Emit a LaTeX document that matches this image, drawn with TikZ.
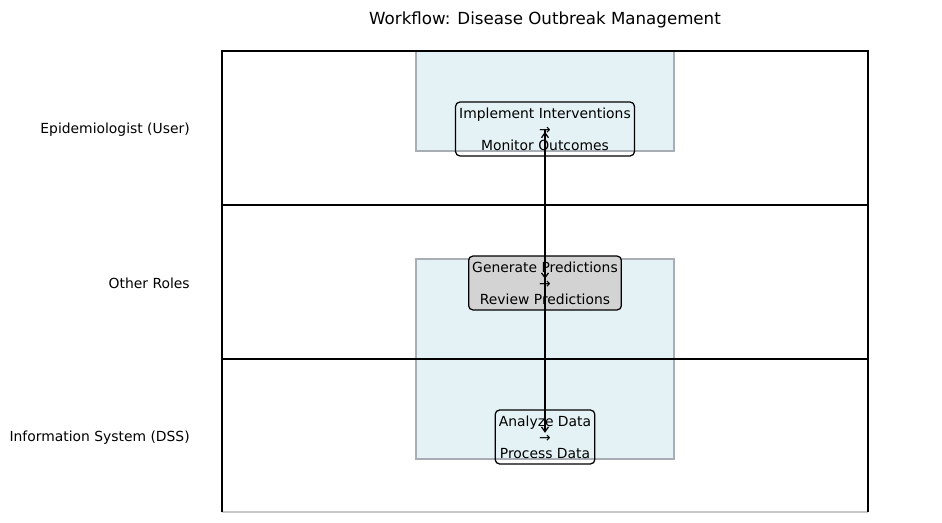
\documentclass[tikz,border=0pt]{standalone}
\usepackage{fontspec}
\setmainfont{DejaVu Sans}
\usetikzlibrary{arrows.meta}
\definecolor{zonefill}{RGB}{228,242,246}
\definecolor{zoneedge}{RGB}{168,174,180}
\definecolor{midfill}{RGB}{211,211,211}
\definecolor{bottomedge}{RGB}{200,200,200}
\tikzset{
  lane/.style={draw=black, line width=1pt},
  zone/.style={fill=zonefill, draw=zoneedge, line width=0.8pt},
  stepbox/.style={draw=black, line width=0.9pt, rounded corners=3pt, align=center,
    font=\fontsize{10}{11.5}\selectfont, inner xsep=2.6pt, inner ysep=4pt},
  lanelabel/.style={anchor=east, font=\fontsize{10}{12}\selectfont, inner sep=0pt},
  flow/.style={-{Straight Barb[length=3.5pt,width=5pt]}, line width=0.9pt}
}
\begin{document}
\begin{tikzpicture}[x=0.72pt,y=-0.72pt]
\useasboundingbox (0,0) rectangle (942,523);
% title
\node[font=\fontsize{12}{14}\selectfont] (title) at (545,19.5) {Workflow: Disease Outbreak Management};
% zones
\draw[zone] (416,51) rectangle (674,151);
\draw[zone] (416,259) rectangle (674,459);
% lanes
\draw[draw=bottomedge, line width=1pt] (222,512) -- (868,512);
\draw[lane] (222,512) -- (222,51) -- (868,51) -- (868,512);
\draw[lane] (222,205) -- (868,205);
\draw[lane] (222,359) -- (868,359);
% lane labels
\node[lanelabel] (l1) at (190,129.5) {Epidemiologist (User)};
\node[lanelabel] (l2) at (190,283.5) {Other Roles};
\node[lanelabel] (l3) at (190,437.5) {Information System (DSS)};
% steps
\node[stepbox] (top) at (545,129) {Implement Interventions\\→\\Monitor Outcomes};
\node[stepbox, fill=midfill] (mid) at (545,283) {Generate Predictions\\→\\Review Predictions};
\node[stepbox] (bot) at (545,437) {Analyze Data\\→\\Process Data};
% connectors
\draw[flow, shorten >=2pt] (mid.center) -- (top.center);
\draw[flow, shorten >=3pt] (top.center) -- (mid.center);
\draw[flow, shorten >=3pt] (mid.center) -- (bot.center);
\end{tikzpicture}
\end{document}
